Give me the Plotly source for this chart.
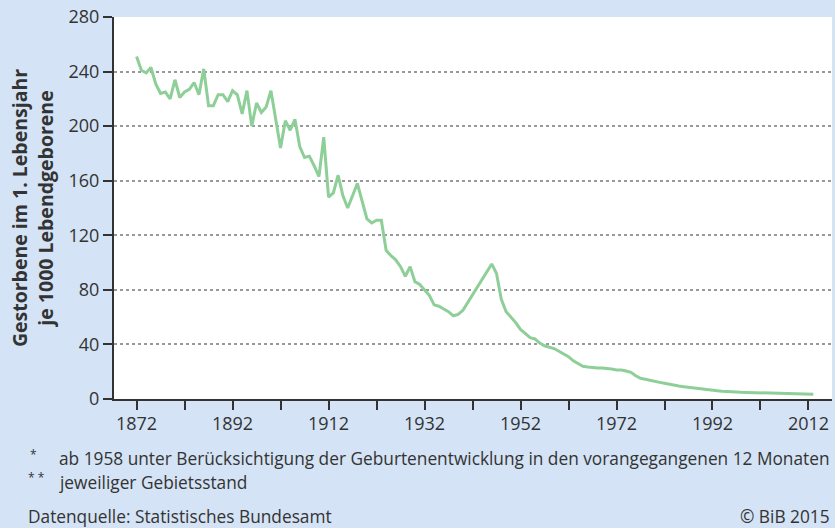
import plotly.graph_objects as go

years_a = list(range(1872, 1941))
vals_a = [251, 241, 239, 243, 231, 224, 225, 220, 234, 221,
          225, 227, 232, 223, 242, 215, 215, 223, 223, 218,
          226, 223, 209, 226, 200, 217, 210, 214, 226, 205,
          184, 204, 197, 205, 185, 177, 178, 171, 163, 192,
          148, 151, 164, 149, 140, 149, 158, 145, 132, 129,
          131, 131, 109, 105, 102, 97, 90, 97, 86, 84,
          80, 76, 69, 68, 66, 64, 61, 62, 65]
years_b = list(range(1946, 2014))
vals_b = [99, 92, 73, 64, 60, 56, 51, 48, 45, 44,
          41, 39, 38, 37, 35, 33, 31, 28, 26, 24,
          23.5, 23, 22.7, 22.7, 22.5, 22.0, 21.3, 21.2, 20.5, 19.5,
          17, 15.2, 14.5, 13.6, 13, 12.2, 11.5, 10.7, 10.1, 9.5,
          9.0, 8.5, 8.0, 7.7, 7.2, 6.8, 6.3, 6.0, 5.7, 5.4,
          5.2, 5.0, 4.9, 4.8, 4.7, 4.6, 4.5, 4.4, 4.3, 4.2,
          4.0, 3.8, 3.6, 3.6, 3.6, 3.6, 3.5, 3.5]

years = years_a + years_b
values = vals_a + vals_b

y_ticks = [0, 40, 80, 120, 160, 200, 240, 280]
x_ticks = [1872, 1892, 1912, 1932, 1952, 1972, 1992, 2012]

y_title = "Gestorbene im 1. Lebensjahr<br>je 1000 Lebendgeborene"
note1 = "ab 1958 unter Berücksichtigung der Geburtenentwicklung in den vorangegangenen 12 Monaten"
note2 = "jeweiliger Gebietsstand"
source = "Datenquelle: Statistisches Bundesamt"
copyright_txt = "© BiB 2015"

BG = "rgb(212,227,245)"
AX = "#333333"
FONT = "Open Sans"

W, H = 835, 528
ML, MR, MT, MB = 114, 3, 17, 129

fig = go.Figure()
fig.add_trace(go.Scatter(
    x=years, y=values, mode="lines",
    line=dict(color="rgb(142,207,152)", width=3),
    hoverinfo="x+y", showlegend=False,
))

fig.update_layout(
    width=W, height=H,
    margin=dict(l=ML, r=MR, t=MT, b=MB),
    paper_bgcolor=BG, plot_bgcolor="white",
    font=dict(family=FONT, color=AX, size=18),
    xaxis=dict(
        range=[1867.3, 2016.9],
        tickvals=x_ticks, ticktext=[str(v) for v in x_ticks],
        ticks="outside", ticklen=9, tickwidth=1.5, tickcolor=AX,
        ticklabelstandoff=-2,
        minor=dict(tickvals=list(range(1872, 2020, 10)), ticks="outside",
                   ticklen=9, tickwidth=1.5, tickcolor=AX, showgrid=False),
        showline=True, linecolor=AX, linewidth=2,
        showgrid=False, zeroline=False,
        tickfont=dict(size=18, family=FONT, color=AX),
    ),
    yaxis=dict(
        range=[0, 280],
        tickvals=y_ticks, ticktext=[str(v) for v in y_ticks],
        ticks="outside", ticklen=9, tickwidth=1.5, tickcolor=AX,
        showline=True, linecolor=AX, linewidth=2,
        showgrid=True, gridcolor="#999999", gridwidth=1.5, griddash="dot",
        zeroline=False,
        tickfont=dict(size=18, family=FONT, color=AX),
        title=dict(text=y_title, font=dict(size=19.5, family=FONT, color=AX, weight="bold"), standoff=10),
    ),
)

ann_font = dict(family=FONT, size=17.3, color=AX)
star_font = dict(family=FONT, size=12, color=AX)
annots = [
    dict(text="*", x=28, y=454, xanchor="left", font=star_font),
    dict(text=note1, x=57, y=458, xanchor="left", font=ann_font),
    dict(text="* *", x=26, y=478, xanchor="left", font=star_font),
    dict(text=note2, x=57, y=482, xanchor="left", font=ann_font),
    dict(text=source, x=26, y=516, xanchor="left", font=ann_font),
    dict(text=copyright_txt, x=832, y=516, xanchor="right", font=ann_font),
]
for a in annots:
    px_x = (a["x"] - ML) / (W - ML - MR)
    px_y = (H - MB - a["y"]) / (H - MT - MB)
    fig.add_annotation(text=a["text"], x=px_x, y=px_y, xref="paper", yref="paper",
                       xanchor=a["xanchor"], yanchor="middle", showarrow=False,
                       font=a["font"])

fig.write_html(
    "out.html",
    config={"displayModeBar": False},
    post_script="document.body.style.margin='0';document.body.style.background='" + BG + "';",
)
